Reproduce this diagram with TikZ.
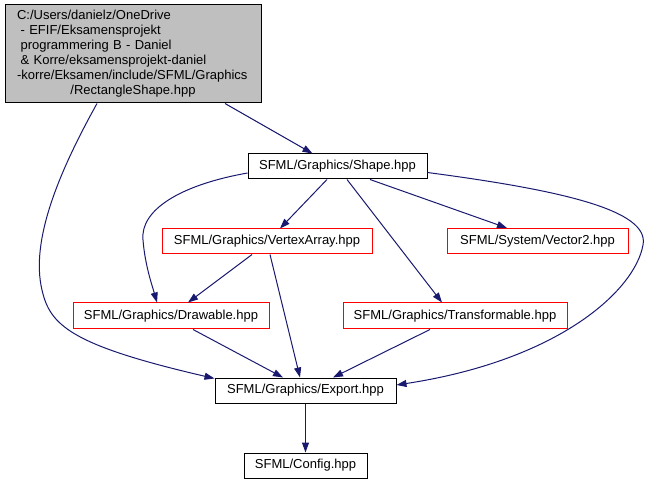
\documentclass[tikz,border=0pt]{standalone}
\usepackage{fontspec}
\setmainfont{Liberation Sans}
\usetikzlibrary{arrows.meta,calc}
\definecolor{edgecol}{HTML}{191970}
\definecolor{topfill}{HTML}{BFBFBF}
\tikzset{
  box/.style={draw=black, line width=1pt, fill=white, inner sep=0pt, minimum height=25pt,
    font=\fontsize{13}{15}\selectfont},
  redbox/.style={box, draw=red},
  edge/.style={draw=edgecol, line width=1pt, -{Triangle[length=10pt,width=7pt]}},
}
\begin{document}
\begin{tikzpicture}[x=1pt,y=-1pt]
\useasboundingbox (0,0) rectangle (649,484);
\node[box, fill=topfill, minimum width=256pt, minimum height=98pt, text width=232pt, align=left] (top) at (133,54)
  {\hyphenpenalty=10000\exhyphenpenalty=10000\hbadness=10000\hfuzz=20pt
   C:/Users/danielz/OneDrive\\
   \hspace*{.28em}- EFIF/Eksamensprojekt\\
   \hspace*{.28em}programmering B - Daniel\\
   \hspace*{.28em}\& Korre/eksamensprojekt-daniel\\
   -korre/Eksamen/include/SFML/Graphics\\
   \makebox[\linewidth][c]{/RectangleShape.hpp}};
\node[box, minimum width=179pt] (shape) at (337.5,166.5) {SFML/Graphics/Shape.hpp};
\node[redbox, minimum width=210pt] (vertex) at (267,241.5) {SFML/Graphics/VertexArray.hpp};
\node[redbox, minimum width=181pt] (vector) at (537.5,241) {SFML/System/Vector2.hpp};
\node[redbox, minimum width=196pt, minimum height=26pt] (drawable) at (171,316) {SFML/Graphics/Drawable.hpp};
\node[redbox, minimum width=224pt, minimum height=26pt] (transf) at (455,316) {SFML/Graphics/Transformable.hpp};
\node[box, minimum width=181pt] (export) at (305.5,390.5) {SFML/Graphics/Export.hpp};
\node[box, minimum width=123pt] (config) at (305.5,465.5) {SFML/Config.hpp};

\draw[edge] ($(top.south)+(92,0)$) -- ($(shape.north)+(-25,0)$);
\draw[edge] ($(top.south)+(-36,0)$) .. controls (60,170) and (30,240) .. (42,290)
  .. controls (50,325) and (70,345) .. ($(export.north west)+(0,1)$);
\draw[edge] ($(shape.west)+(0,6.5)$) .. controls (180,185) and (140,210) .. (143,240)
  .. controls (145,265) and (152,285) .. ($(drawable.north)+(-14,0)$);
\draw[edge] ($(shape.south)+(-10.5,0)$) -- ($(vertex.north)+(13,0)$);
\draw[edge] ($(shape.south)+(9.5,0)$) -- ($(transf.north)+(-13,0)$);
\draw[edge] ($(shape.south)+(32.5,0)$) -- ($(vector.north)+(-30.5,0)$);
\draw[edge] ($(shape.east)+(0,6)$) .. controls (560,190) and (650,210) .. (643,245)
  .. controls (635,290) and (560,360) .. ($(export.east)+(0,-5.5)$);
\draw[edge] ($(vertex.south)+(-15,0)$) -- ($(drawable.north)+(17,0)$);
\draw[edge] ($(vertex.south)+(3,0)$) -- ($(export.north)+(-5.5,0)$);
\draw[edge] ($(drawable.south)+(22,0)$) -- ($(export.north)+(-22.5,0)$);
\draw[edge] ($(transf.south)+(-25,0)$) -- ($(export.north)+(27.5,0)$);
\draw[edge] (export.south) -- (config.north);
\end{tikzpicture}
\end{document}
